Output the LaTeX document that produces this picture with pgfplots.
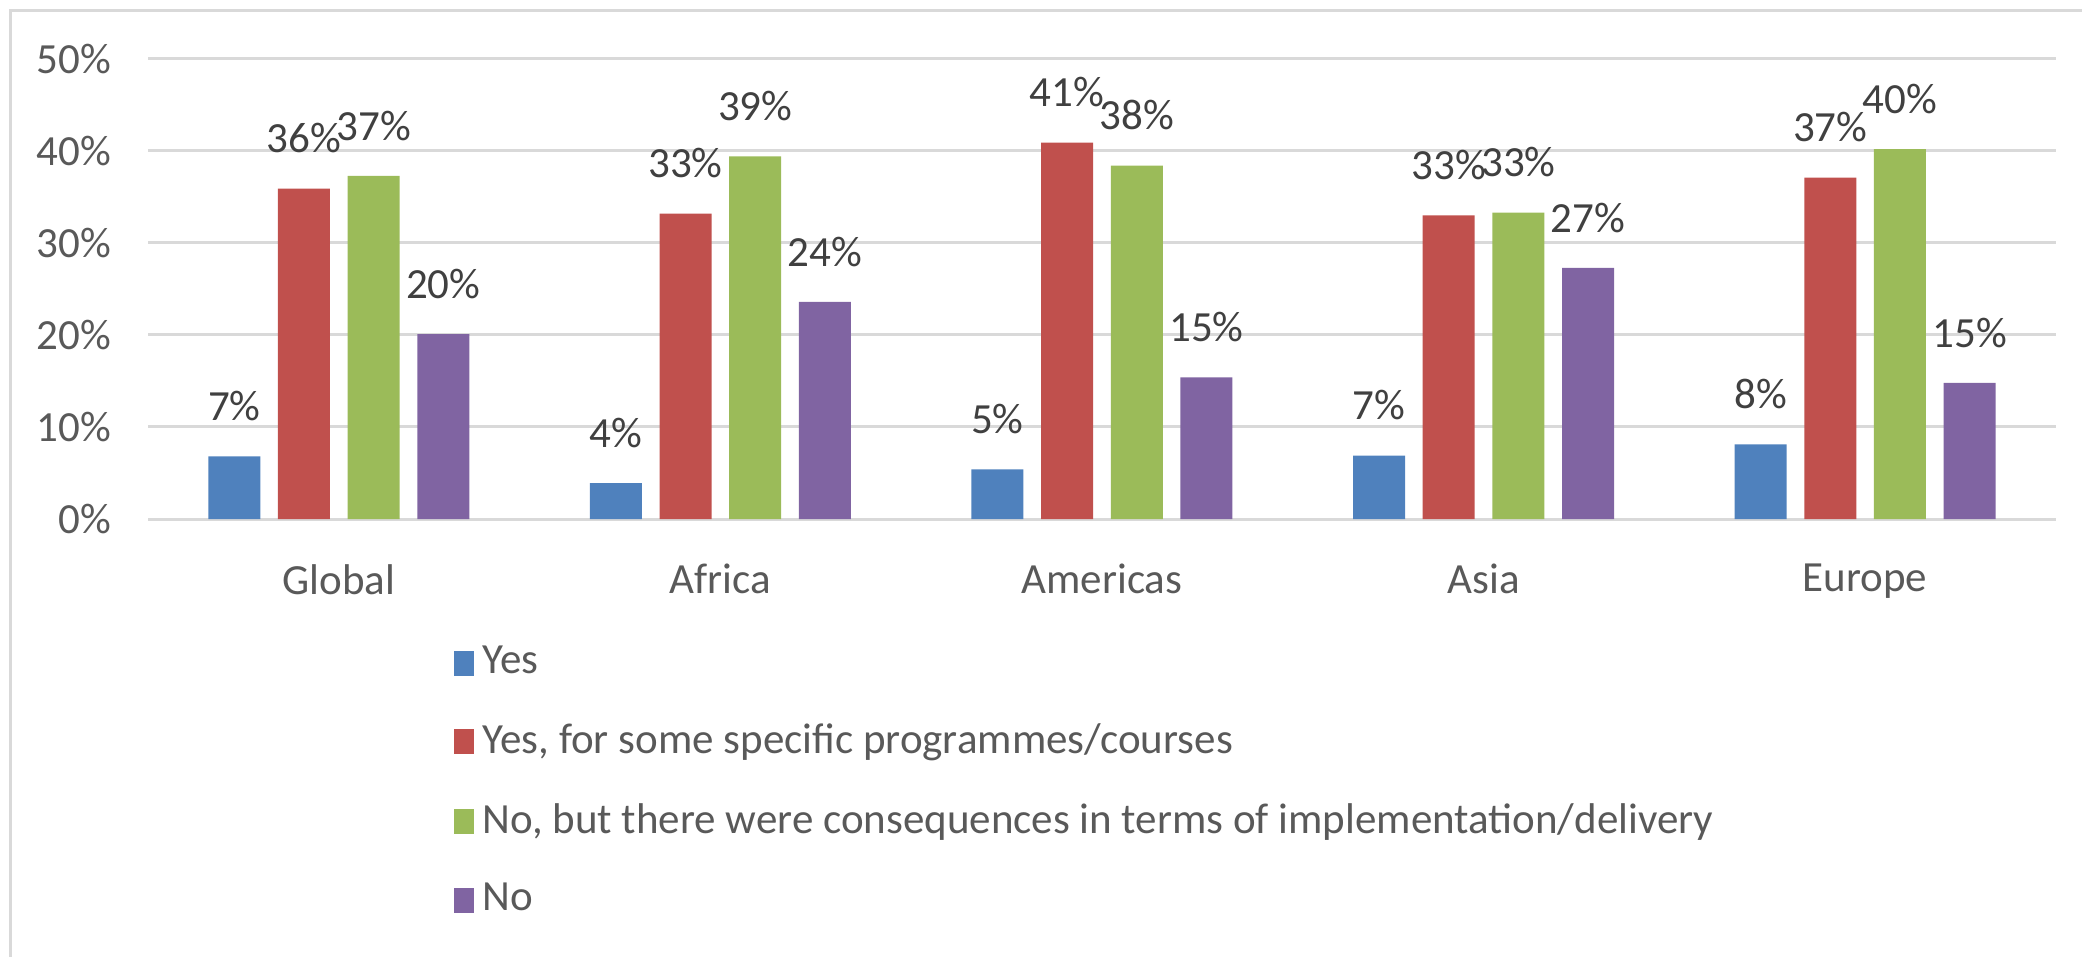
\documentclass[border=0pt]{standalone}
\usepackage{pgfplots}
\pgfplotsset{compat=1.18}
\usepackage{fontspec}
\setmainfont{Carlito}
\definecolor{cblue}{HTML}{4F81BD}
\definecolor{cred}{HTML}{C0504D}
\definecolor{cgreen}{HTML}{9BBB59}
\definecolor{cpurple}{HTML}{8064A2}
\definecolor{gridc}{HTML}{D9D9D9}
\definecolor{tickc}{HTML}{595959}
\definecolor{labc}{HTML}{404040}
\begin{document}
\begin{tikzpicture}
\path[use as bounding box] (0,0) rectangle (484.19pt,222.33pt);
\draw[color=gridc, line width=0.7pt] (2.33pt,-1pt) -- (2.33pt,220.0pt) -- (485pt,220.0pt);
\begin{axis}[
  at={(34.42pt,101.63pt)}, anchor=south west,
  scale only axis, width=443.7pt, height=107pt,
  xmin=-0.5, xmax=4.5, ymin=0, ymax=50,
  ybar=4.1pt, bar width=12.1pt,
  xtick={0,1,2,3,4}, xticklabels={Global,Africa,Americas,Asia,Europe},
  ytick={0,10,20,30,40,50},
  yticklabel={\pgfmathprintnumber{\tick}\%},
  /pgf/number format/assume math mode=true,
  ymajorgrids, grid style={gridc, line width=0.7pt},
  axis line style={draw=none}, tick style={draw=none}, major tick length=0pt,
  ticklabel style={font=\fontsize{10}{12}\selectfont, color=tickc},
  xticklabel style={yshift=-7pt},
  yticklabel style={xshift=-5pt},
  nodes near coords={\pgfmathprintnumber[fixed,precision=0]{\pgfplotspointmeta}\%},
  nodes near coords style={font=\fontsize{10}{12}\selectfont, color=labc, yshift=4.7pt},
  legend cell align=left,
  legend style={at={(0.160,-0.256)}, anchor=north west, draw=none, fill=none,
    font=\fontsize{10}{12}\selectfont, text=tickc, row sep=6.1pt, inner sep=0pt},
  legend image code/.code={\fill[#1] (0pt,-2.9pt) rectangle (4.6pt,2.9pt);},
]
\addplot[fill=cblue, draw=none] coordinates {(0,6.8) (1,3.9) (2,5.4) (3,6.9) (4,8.1)};
\addplot[fill=cred, draw=none] coordinates {(0,35.9) (1,33.2) (2,40.9) (3,33.0) (4,37.1)};
\addplot[fill=cgreen, draw=none] coordinates {(0,37.3) (1,39.4) (2,38.4) (3,33.3) (4,40.2)};
\addplot[fill=cpurple, draw=none] coordinates {(0,20.1) (1,23.6) (2,15.4) (3,27.3) (4,14.8)};
\legend{Yes, {Yes, for some specific programmes/courses}, {No, but there were consequences in terms of implementation/delivery}, No}
\end{axis}
\end{tikzpicture}
\end{document}
